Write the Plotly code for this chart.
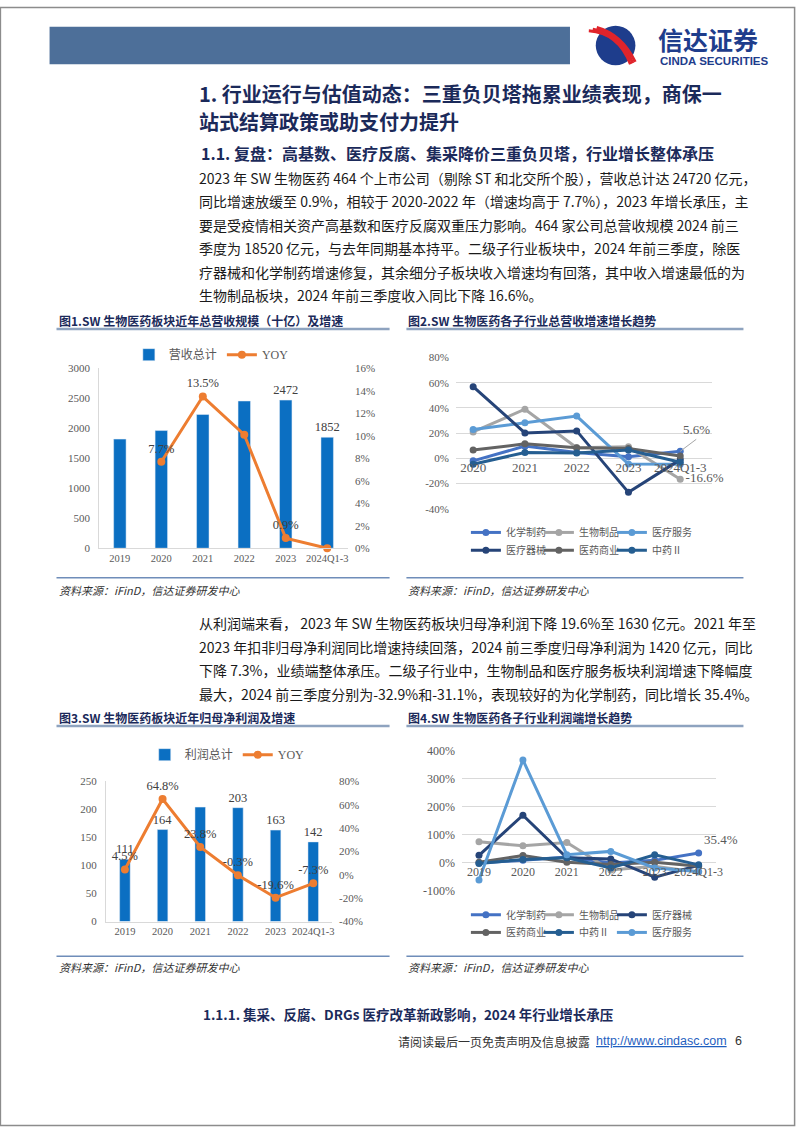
import plotly.graph_objects as go

W, H = 802, 1133


def px(x):
    return x / W


def py(y):
    return 1 - y / H


# ---------------- data ----------------
years_a = ["2019", "2020", "2021", "2022", "2023", "2024Q1-3"]
revenue_total = [1821, 1964, 2232, 2457, 2472, 1852]
revenue_total_labels = ["", "", "", "", "2472", "1852"]
revenue_yoy = [None, 0.077, 0.135, 0.101, 0.009, 0.000]
revenue_yoy_labels = ["", "7.7%", "13.5%", "10.1%", "0.9%", ""]

years_b = ["2020", "2021", "2022", "2023", "2024Q1-3"]
rev_chem = [-0.020, 0.097, 0.047, 0.013, 0.056]
rev_bio = [0.210, 0.390, 0.084, 0.092, -0.166]
rev_service = [0.230, 0.283, 0.336, -0.045, -0.047]
rev_device = [0.569, 0.202, 0.218, -0.270, -0.010]
rev_commerce = [0.066, 0.115, 0.084, 0.079, 0.018]
rev_tcm = [-0.047, 0.047, 0.042, 0.066, -0.031]

profit_total = [111, 164, 204, 203, 163, 142]
profit_total_labels = ["111", "164", "", "203", "163", "142"]
profit_yoy = [0.045, 0.648, 0.238, -0.003, -0.196, -0.073]
profit_yoy_labels = ["4.5%", "64.8%", "23.8%", "-0.3%", "-19.6%", "-7.3%"]

prof_chem = [0.00, 0.09, 0.21, 0.00, 0.09, 0.354]
prof_bio = [0.75, 0.61, 0.73, -0.25, -0.12, -0.329]
prof_device = [0.27, 1.70, 0.18, 0.14, -0.51, -0.09]
prof_commerce = [0.02, 0.26, 0.02, -0.06, 0.02, -0.12]
prof_tcm = [-0.02, 0.12, 0.18, -0.18, 0.29, -0.07]
prof_service = [-0.61, 3.67, 0.29, 0.41, -0.18, -0.311]

y_ticks_rev_pct = [0, 0.02, 0.04, 0.06, 0.08, 0.10, 0.12, 0.14, 0.16]
y_ticks_rev_pct_text = ["0%", "2%", "4%", "6%", "8%", "10%", "12%", "14%", "16%"]
y_ticks_b = [-0.4, -0.2, 0, 0.2, 0.4, 0.6, 0.8]
y_ticks_b_text = ["-40%", "-20%", "0%", "20%", "40%", "60%", "80%"]
y_ticks_d = [-1, 0, 1, 2, 3, 4]
y_ticks_d_text = ["-100%", "0%", "100%", "200%", "300%", "400%"]

para1 = [
    "2023 年 SW 生物医药 464 个上市公司（剔除 ST 和北交所个股），营收总计达 24720 亿元，",
    "同比增速放缓至 0.9%，相较于 2020-2022 年（增速均高于 7.7%），2023 年增长承压，主",
    "要是受疫情相关资产高基数和医疗反腐双重压力影响。464 家公司总营收规模 2024 前三",
    "季度为 18520 亿元，与去年同期基本持平。二级子行业板块中，2024 年前三季度，除医",
    "疗器械和化学制药增速修复，其余细分子板块收入增速均有回落，其中收入增速最低的为",
    "生物制品板块，2024 年前三季度收入同比下降 16.6%。",
]
para2 = [
    "从利润端来看， 2023 年 SW 生物医药板块归母净利润下降 19.6%至 1630 亿元。2021 年至",
    "2023 年扣非归母净利润同比增速持续回落，2024 前三季度归母净利润为 1420 亿元，同比",
    "下降 7.3%，业绩端整体承压。二级子行业中，生物制品和医疗服务板块利润增速下降幅度",
    "最大，2024 前三季度分别为-32.9%和-31.1%，表现较好的为化学制药，同比增长 35.4%。",
]

# ---------------- styles ----------------
SERIF = "Liberation Serif, Noto Sans CJK SC"
CJK = "Noto Sans CJK SC"
NAVY = "#1B2A5A"
TICK = dict(family=SERIF, size=11, color="#595959")
BAR = "#0B6FC2"
ORANGE = "#ED7D31"
C_CHEM = "#4472C4"
C_BIO = "#A5A5A5"
C_SERVICE = "#5B9BD5"
C_DEVICE = "#264478"
C_COMMERCE = "#636363"
C_TCM = "#255E91"

fig = go.Figure()

# ---- chart 1 ----
fig.add_trace(go.Bar(x=years_a, y=revenue_total, name="营收总计", marker_color=BAR,
                     width=0.3, text=revenue_total_labels, textposition="outside",
                     constraintext="none",
                     textfont=dict(family=SERIF, size=12.5, color="#404040"),
                     cliponaxis=False, xaxis="x", yaxis="y", legend="legend"))
fig.add_trace(go.Scatter(x=years_a, y=revenue_yoy, name="YOY", mode="lines+markers+text",
                         line=dict(color=ORANGE, width=3), marker=dict(size=8, color=ORANGE),
                         text=revenue_yoy_labels, textposition="top center",
                         textfont=dict(family=SERIF, size=12.5, color="#404040"),
                         cliponaxis=False, xaxis="x", yaxis="y2", legend="legend"))

# ---- chart 2 ----
series_b = [
    ("化学制药", rev_chem, C_CHEM, "legend2", None),
    ("生物制品", rev_bio, C_BIO, "legend2", None),
    ("医疗服务", rev_service, C_SERVICE, "legend2", 60),
    ("医疗器械", rev_device, C_DEVICE, "legend3", None),
    ("医药商业", rev_commerce, C_COMMERCE, "legend3", None),
    ("中药Ⅱ", rev_tcm, C_TCM, "legend3", 60),
]
for name, vals, col, lg, lw in series_b:
    txt = [""] * len(vals)
    if name == "生物制品":
        txt[-1] = f"{vals[-1]:.1%}"
    kw = dict(legendwidth=lw) if lw else {}
    fig.add_trace(go.Scatter(x=years_b, y=vals, name=name, mode="lines+markers+text",
                             line=dict(color=col, width=3), marker=dict(size=7, color=col),
                             text=txt, textposition="middle right",
                             textfont=dict(family=SERIF, size=13, color="#595959"),
                             cliponaxis=False, xaxis="x2", yaxis="y3", legend=lg, **kw))

# ---- chart 3 ----
fig.add_trace(go.Bar(x=years_a, y=profit_total, name="利润总计", marker_color=BAR,
                     width=0.28, text=profit_total_labels, textposition="outside",
                     constraintext="none",
                     textfont=dict(family=SERIF, size=12.5, color="#404040"),
                     cliponaxis=False, xaxis="x3", yaxis="y4", legend="legend4"))
fig.add_trace(go.Scatter(x=years_a, y=profit_yoy, name="YOY", mode="lines+markers+text",
                         line=dict(color=ORANGE, width=3), marker=dict(size=8, color=ORANGE),
                         text=profit_yoy_labels, textposition="top center",
                         textfont=dict(family=SERIF, size=12.5, color="#404040"),
                         cliponaxis=False, xaxis="x3", yaxis="y5", legend="legend4"))

# ---- chart 4 ----
series_d = [
    ("化学制药", prof_chem, C_CHEM, "legend5", None),
    ("生物制品", prof_bio, C_BIO, "legend5", None),
    ("医疗器械", prof_device, C_DEVICE, "legend5", 60),
    ("医药商业", prof_commerce, C_COMMERCE, "legend6", None),
    ("中药Ⅱ", prof_tcm, C_TCM, "legend6", None),
    ("医疗服务", prof_service, C_SERVICE, "legend6", 60),
]
for name, vals, col, lg, lw in series_d:
    txt = [""] * len(vals)
    if name == "化学制药":
        txt[-1] = f"{vals[-1]:.1%}"
    kw = dict(legendwidth=lw) if lw else {}
    fig.add_trace(go.Scatter(x=years_a, y=vals, name=name, mode="lines+markers+text",
                             line=dict(color=col, width=3), marker=dict(size=7, color=col),
                             text=txt, textposition="top right",
                             textfont=dict(family=SERIF, size=13, color="#595959"),
                             cliponaxis=False, xaxis="x4", yaxis="y6", legend=lg, **kw))

axis_common = dict(showgrid=False, zeroline=False, ticks="", fixedrange=True)

fig.update_layout(
    width=W, height=H, autosize=False, margin=dict(l=0, r=0, t=0, b=0, pad=0),
    paper_bgcolor="white", plot_bgcolor="rgba(0,0,0,0)",
    font=dict(family=CJK, color="#222"),
    showlegend=True,
    xaxis=dict(domain=[px(100), px(351)], anchor="y", type="category", showline=True,
               linecolor="#D9D9D9", tickfont=dict(family=SERIF, size=10.5, color="#595959"),
               **axis_common),
    yaxis=dict(domain=[py(548), py(366)], anchor="x", range=[0, 3000], dtick=500,
               showline=True, linecolor="#D9D9D9", tickfont=TICK, ticklabelstandoff=6,
               **axis_common),
    yaxis2=dict(overlaying="y", side="right", anchor="x", range=[0, 0.16],
                tickvals=y_ticks_rev_pct, ticktext=y_ticks_rev_pct_text, tickfont=TICK,
                ticklabelstandoff=6, showline=False, **axis_common),
    xaxis2=dict(domain=[px(460), px(718)], anchor="free", position=py(457), type="category",
                showline=False, tickfont=dict(family=SERIF, size=13, color="#595959"),
                **axis_common),
    yaxis3=dict(domain=[py(508), py(355)], anchor="x2", range=[-0.4, 0.8],
                tickvals=y_ticks_b, ticktext=y_ticks_b_text, tickfont=TICK, ticklabelstandoff=6,
                showgrid=True, gridcolor="#D9D9D9", zeroline=False, ticks="", fixedrange=True),
    xaxis3=dict(domain=[px(107), px(335)], anchor="y4", type="category", showline=True,
                linecolor="#D9D9D9", tickfont=dict(family=SERIF, size=10.5, color="#595959"),
                **axis_common),
    yaxis4=dict(domain=[py(926), py(784)], anchor="x3", range=[0, 250], dtick=50,
                showline=True, linecolor="#D9D9D9", tickfont=TICK, ticklabelstandoff=6,
                **axis_common),
    yaxis5=dict(overlaying="y4", side="right", anchor="x3", range=[-0.4, 0.8],
                tickvals=y_ticks_b, ticktext=y_ticks_b_text, tickfont=TICK,
                ticklabelstandoff=6, showline=False, **axis_common),
    xaxis4=dict(domain=[px(466), px(722)], anchor="free", position=py(867), type="category",
                showline=False, tickfont=dict(family=SERIF, size=12, color="#595959"),
                **axis_common),
    yaxis6=dict(domain=[py(895), py(753)], anchor="x4", range=[-1, 4],
                tickvals=y_ticks_d, ticktext=y_ticks_d_text,
                tickfont=dict(family=SERIF, size=12, color="#595959"),
                ticklabelstandoff=6, showgrid=True, gridcolor="#D9D9D9", zeroline=False,
                ticks="", fixedrange=True),
)

leg_big = dict(family=SERIF, size=12, color="#595959")
leg_small = dict(family=SERIF, size=10, color="#595959")
small_leg = dict(xanchor="left", yanchor="middle", orientation="h", font=leg_small,
                 bgcolor="rgba(0,0,0,0)", itemwidth=30, entrywidth=28,
                 entrywidthmode="pixels", traceorder="normal")
fig.update_layout(
    legend=dict(x=px(130), y=py(352), xanchor="left", yanchor="middle", orientation="h",
                font=leg_big, bgcolor="rgba(0,0,0,0)", itemwidth=30, traceorder="normal"),
    legend2=dict(x=px(470), y=py(532), **small_leg),
    legend3=dict(x=px(470), y=py(550), **small_leg),
    legend4=dict(x=px(146), y=py(757), xanchor="left", yanchor="middle", orientation="h",
                 font=leg_big, bgcolor="rgba(0,0,0,0)", itemwidth=30, traceorder="normal"),
    legend5=dict(x=px(470), y=py(919), **small_leg),
    legend6=dict(x=px(470), y=py(937), **small_leg),
)

# ---------------- shapes ----------------
shapes = []
shapes.append(dict(type="rect", xref="paper", yref="paper", x0=0.0005, x1=0.9995, y0=0.0005, y1=0.9995,
                   line=dict(color="#8C8C8C", width=1.5), layer="above"))
shapes.append(dict(type="rect", xref="paper", yref="paper", x0=px(50), x1=px(575),
                   y0=py(58), y1=py(20), fillcolor="#4D6F99", line=dict(width=0)))
shapes.append(dict(type="circle", xref="paper", yref="paper", x0=px(601), x1=px(641),
                   y0=py(59), y1=py(19), fillcolor="#1E3D8C", line=dict(width=0)))


def path(pts):
    s = ""
    for cmd, coords in pts:
        s += cmd + " " + " ".join(f"{px(coords[i]):.5f},{py(coords[i+1]):.5f}"
                                  for i in range(0, len(coords), 2)) + " "
    return s


for d in (0, 4, 8):
    shapes.append(dict(type="path", xref="paper", yref="paper",
                       path=path([("M", [594 + d, 24 - d * 0.4]),
                                  ("Q", [624 + d * 0.4, 26 + d * 0.2, 636 + d * 0.6, 58 - d * 0.3])]),
                       line=dict(color="#E0242B", width=3)))
for x0, x1, y in ((57, 393, 326), (410, 750, 326), (57, 393, 728), (410, 750, 728)):
    shapes.append(dict(type="line", xref="paper", yref="paper", x0=px(x0), x1=px(x1),
                       y0=py(y), y1=py(y), line=dict(color="#8EA3BF", width=2.5)))
for x0, x1, y in ((57, 393, 578), (410, 750, 578), (57, 393, 961), (410, 750, 961)):
    shapes.append(dict(type="line", xref="paper", yref="paper", x0=px(x0), x1=px(x1),
                       y0=py(y), y1=py(y), line=dict(color="#6F8DB9", width=1.5)))
fig.update_layout(shapes=shapes)

# ---------------- annotations ----------------
ann = []


def text(x, y, s, size, color="#1a1a1a", family=CJK, bold=False, italic=False, xanchor="left"):
    ann.append(dict(xref="paper", yref="paper", x=px(x), y=py(y), text=(f"<b>{s}</b>" if bold else s),
                    showarrow=False, xanchor=xanchor, yanchor="middle",
                    font=dict(size=size, color=color, family=family,
                              style=("italic" if italic else "normal"))))


text(662, 32, "信达证券", 25, color="#1E3D8C", bold=True)
text(664, 55, "CINDA SECURITIES", 11.5, color="#1E3D8C", family="Liberation Sans", bold=True)
text(199, 88, "1. 行业运行与估值动态：三重负贝塔拖累业绩表现，商保一", 20, color=NAVY, bold=True)
text(199, 116, "站式结算政策或助支付力提升", 20, color=NAVY, bold=True)
text(201, 148, "1.1. 复盘：高基数、医疗反腐、集采降价三重负贝塔，行业增长整体承压", 16, color=NAVY, bold=True)
for i, line in enumerate(para1):
    text(199, 173 + i * 23.8, line, 14)
for i, line in enumerate(para2):
    text(199, 624 + i * 23.8, line, 14)
text(57, 317, "图1.SW 生物医药板块近年总营收规模（十亿）及增速", 12, color=NAVY, bold=True)
text(410, 317, "图2.SW 生物医药各子行业总营收增速增长趋势", 12, color=NAVY, bold=True)
text(57, 719, "图3.SW 生物医药板块近年归母净利润及增速", 12, color=NAVY, bold=True)
text(410, 719, "图4.SW 生物医药各子行业利润端增长趋势", 12, color=NAVY, bold=True)
for x, y in ((57, 590), (410, 590), (57, 972), (410, 972)):
    text(x, y, "资料来源：iFinD，信达证券研发中心", 11, color="#333", italic=True)
text(203, 1020, "1.1.1. 集采、反腐、DRGs 医疗改革新政影响，2024 年行业增长承压", 13.5, color=NAVY, bold=True)
text(399, 1047, "请阅读最后一页免责声明及信息披露", 12, color="#333")
text(599, 1047, "<u>http://www.cindasc.com</u>", 12.5, color="#1F5FBF", family="Liberation Sans")
text(739, 1047, "6", 12.5, color="#333", family="Liberation Sans")

ann.append(dict(xref="x2", yref="y3", x=years_b[-1], y=rev_chem[-1], text=f"{rev_chem[-1]:.1%}",
                showarrow=True, arrowhead=0, arrowwidth=1, arrowcolor="#A6A6A6",
                ax=16, ay=-12, xanchor="center", yanchor="bottom",
                font=dict(family=SERIF, size=13, color="#595959")))
fig.update_layout(annotations=ann)

post = ("var st=document.createElement('style');"
        "st.textContent='html,body{margin:0!important;padding:0!important;overflow:hidden!important;"
        "width:802px;height:1133px;}';"
        "document.head.appendChild(st);"
        "var gd=document.getElementById('{plot_id}');"
        "gd.style.position='absolute';gd.style.left='0px';gd.style.top='0px';"
        "gd.style.width='802px';gd.style.height='1133px';"
        "Plotly.relayout(gd,{width:802,height:1133,autosize:false});")
fig.write_html("out.html", config=dict(responsive=False, displayModeBar=False), post_script=post)
